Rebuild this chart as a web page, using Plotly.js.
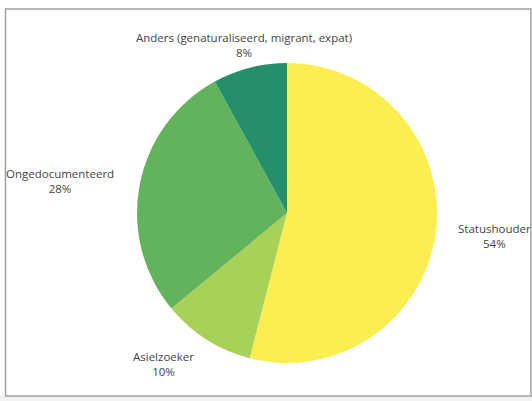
<!DOCTYPE html>
<html>
<head>
<meta charset="utf-8">
<script src="https://cdn.plot.ly/plotly-3.0.1.min.js"></script>
<style>html,body{margin:0;padding:0;background:#fff;}#chart{width:532px;height:401px;}</style>
</head>
<body>
<div id="chart"></div>
<script>
const categories = ["Statushouder", "Asielzoeker", "Ongedocumenteerd", "Anders (genaturaliseerd, migrant, expat)"];
const values = [54, 10, 28, 8];
const colors = ["#fcee50", "#a7d158", "#63b35d", "#248f69"];

const W = 532, H = 401;
// label block centres in pixels (layout only)
const labelPos = [[494, 236], [163, 364], [60, 181], [244, 45]];

const total = values.reduce((a, b) => a + b, 0);
const annotations = categories.map((c, i) => ({
  xref: "paper", yref: "paper",
  x: labelPos[i][0] / W, y: (H - labelPos[i][1]) / H,
  xanchor: "center", yanchor: "middle", align: "center",
  showarrow: false,
  text: c + "<br>" + Math.round(values[i] / total * 100) + "%",
  font: {family: "Open Sans", size: 11.5, color: "#454545"}
}));

const data = [{
  type: "pie",
  labels: categories,
  values: values,
  sort: false,
  direction: "clockwise",
  rotation: 0,
  marker: {colors: colors, line: {width: 0}},
  textinfo: "none",
  hoverinfo: "none",
  automargin: false,
  domain: {x: [137 / W, 437 / W], y: [(H - 363) / H, (H - 63) / H]}
}];
const layout = {
  width: W, height: H,
  margin: {l: 0, r: 0, t: 0, b: 0},
  showlegend: false,
  paper_bgcolor: "#ffffff",
  font: {family: "Open Sans"},
  annotations: annotations,
  shapes: [
    {type: "rect", xref: "paper", yref: "paper", x0: 0, x1: 1, y0: 0, y1: (H - 396) / H,
     fillcolor: "#f2f2f2", line: {width: 0}, layer: "below"},
    {type: "rect", xref: "paper", yref: "paper", x0: 5.5 / W, x1: 531 / W, y0: (H - 396) / H, y1: (H - 9) / H,
     fillcolor: "rgba(0,0,0,0)", line: {color: "#a0a0a0", width: 1.5}, layer: "below"}
  ]
};
Plotly.newPlot("chart", data, layout, {staticPlot: true, displayModeBar: false});
</script>
</body>
</html>
